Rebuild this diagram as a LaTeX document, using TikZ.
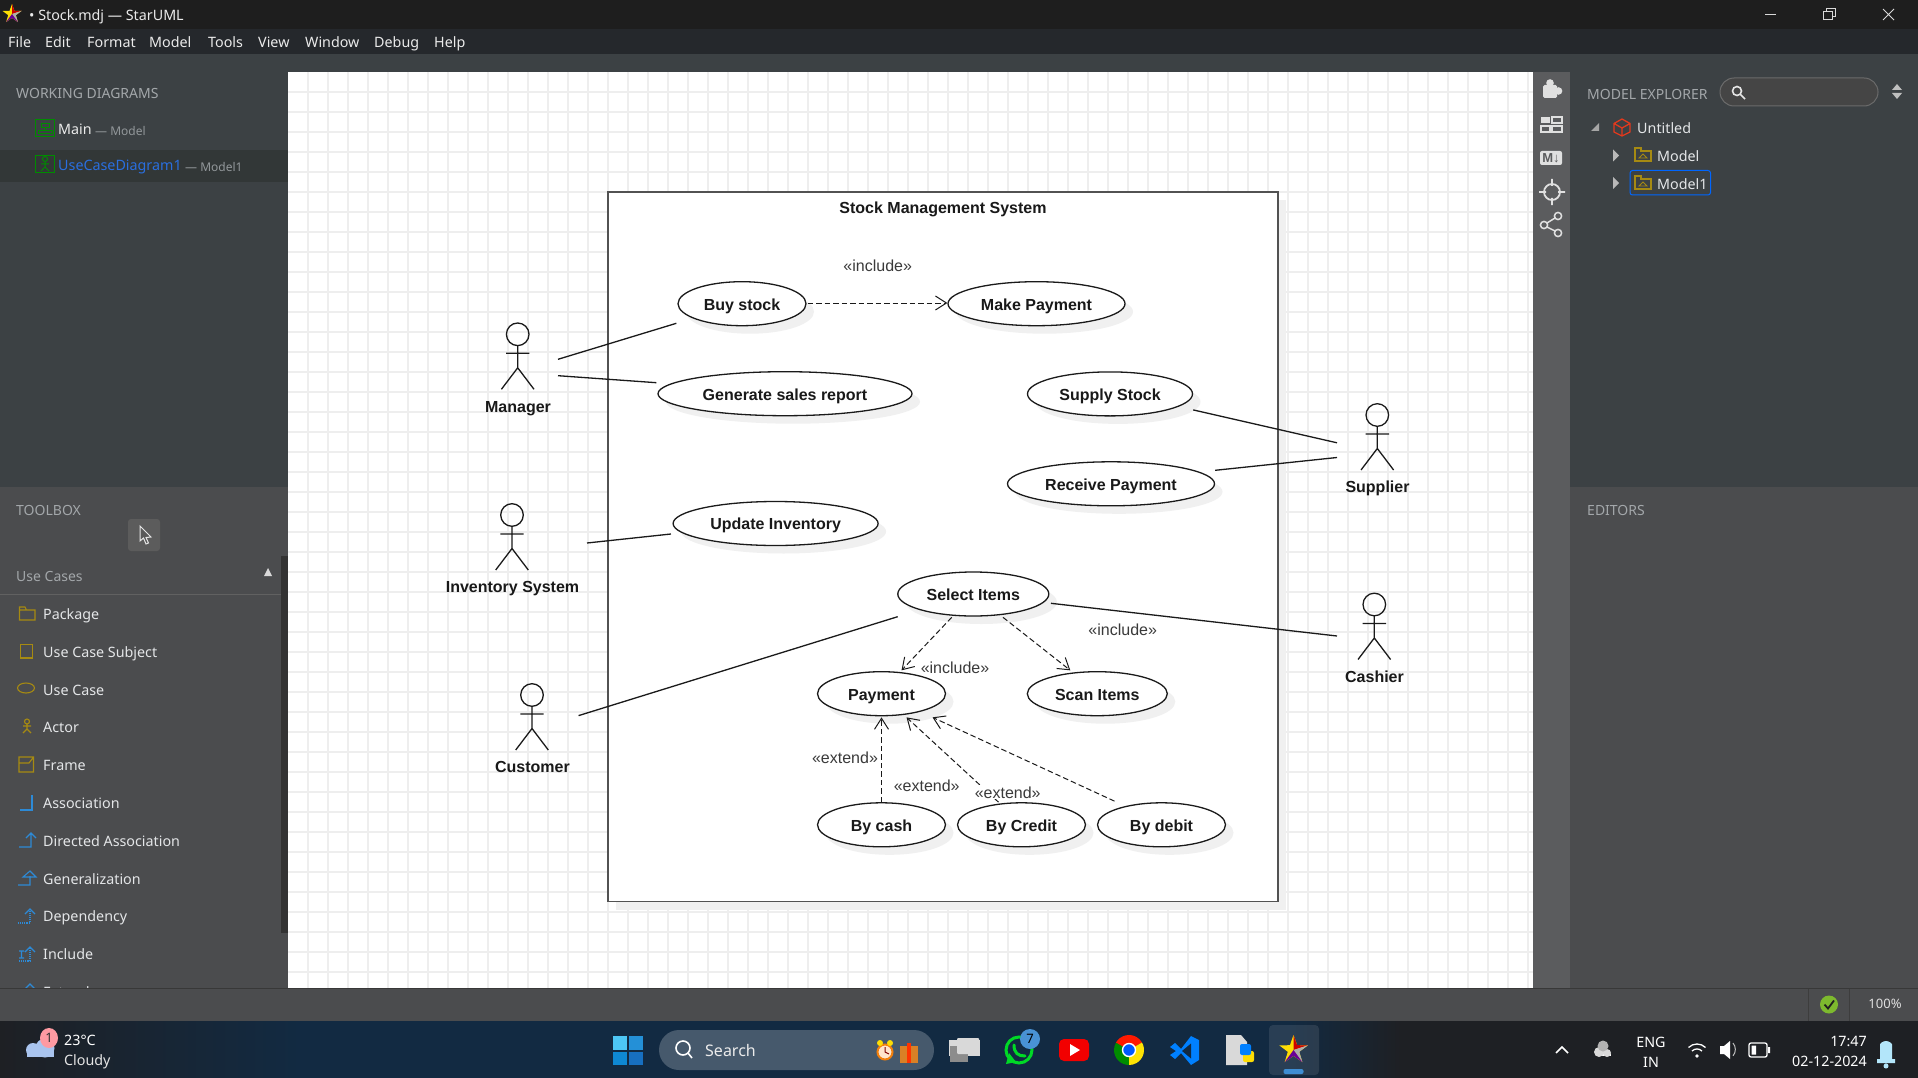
\documentclass[tikz,border=0pt]{standalone}
\usepackage{fontspec}
\setmainfont{Liberation Sans}
\newfontfamily\uifont{Noto Sans}
\usetikzlibrary{shapes.geometric,shadows,arrows.meta}

\definecolor{titlebg}{HTML}{1E1E1E}
\definecolor{menubg}{HTML}{25282C}
\definecolor{panelbg}{HTML}{3C4144}
\definecolor{panelsel}{HTML}{323737}
\definecolor{toolbg}{HTML}{4B4C4E}
\definecolor{sidebar}{HTML}{5B5C5E}
\definecolor{headtxt}{HTML}{A3A7AA}
\definecolor{uitxt}{HTML}{E4E6E8}
\definecolor{dimtxt}{HTML}{92979A}
\definecolor{linktxt}{HTML}{2A6FE0}
\definecolor{folderc}{HTML}{A68A12}
\definecolor{assocc}{HTML}{2D8AD6}
\definecolor{gridc}{HTML}{EEEEEE}
\definecolor{umlline}{HTML}{1A1A1A}
\definecolor{stereo}{HTML}{3A3A3A}
\definecolor{taskedge}{HTML}{1E2024}
\definecolor{taskmid}{HTML}{122A42}
\definecolor{cloudc}{HTML}{A9C4EE}
\definecolor{badgec}{HTML}{FF9AA2}
\definecolor{okc}{HTML}{7DB92E}

\newcommand\uisize[1]{\fontsize{#1}{#1}\selectfont}

\begin{document}
\begin{tikzpicture}[x=1pt,y=-1pt,
    usecase/.style={ellipse,draw=umlline,fill=white,line width=1.3pt,minimum height=44pt,inner sep=0pt,
                    font=\bfseries\uisize{16},text=black!90,text height=16pt,text depth=3.2pt,
                    drop shadow={shadow xshift=8pt,shadow yshift=-8pt,fill=black!6,opacity=1}},
    stickfig/.style={draw=umlline,line width=1.3pt},
    actorlabel/.style={font=\bfseries\uisize{16},text=black!90,inner sep=0pt,text height=16pt,text depth=3.2pt},
    assoc/.style={draw=umlline,line width=1.3pt},
    depend/.style={draw=umlline,line width=1pt,dash pattern=on 5.5pt off 3pt,-{Straight Barb[length=11pt,width=14pt]}},
    stereotype/.style={font=\uisize{16},text=stereo,inner sep=1pt},
    uitext/.style={font=\uifont\uisize{#1},text=uitxt,anchor=west,inner sep=0pt,text height=14pt,text depth=2pt},
    uitext/.default=14.3,
    uihead/.style={uitext=14,text=headtxt},
    menuitem/.style={uitext=14.3,text=white!92!black},
    taskitem/.style={font=\uifont\uisize{15},text=white,inner sep=0pt},
    pkgicon/.style={draw=folderc,line width=1.1pt},
    relicon/.style={draw=assocc,line width=1.1pt},
    barglyph/.style={draw=white!88!black,line width=1.8pt},
    stickman/.pic={
      \draw[stickfig] (0,0) circle [radius=11.3];
      \draw[stickfig] (0,11.3) -- (0,33.5) (-11.7,19) -- (11.7,19)
                      (-16.3,55) -- (0,33.5) -- (16.3,55);
    },
    foldersym/.pic={
      \draw[pkgicon] (-8,-7) -- (-2,-7) -- (-2,-4) -- (8,-4) -- (8,6) -- (-8,6) -- cycle;
      \draw[pkgicon,line width=.8pt] (-4,3) -- (0,-1) -- (4,3) -- cycle;
    },
    opentri/.pic={\fill[white!72!black] (-3,-6) -- (3,0) -- (-3,6) -- cycle;},
    starlogo/.pic={
      \fill[yellow!80!orange] (0,-10) -- (2.4,-3.2) -- (9.5,-3.1) -- (3.8,1.2) -- (5.9,8.1) -- (0,3.9)
        -- (-5.9,8.1) -- (-3.8,1.2) -- (-9.5,-3.1) -- (-2.4,-3.2) -- cycle;
      \fill[red!80!black] (0,-10) -- (2.4,-3.2) -- (9.5,-3.1) -- (0,0) -- cycle;
      \fill[white!68!black] (9.5,-3.1) -- (3.8,1.2) -- (5.9,8.1) -- (0,0) -- cycle;
      \fill[purple!55!blue] (0,0) -- (5.9,8.1) -- (0,3.9) -- (-5.9,8.1) -- cycle;
    }]

  \useasboundingbox (0,0) rectangle (1918,1078);

  % window frame
  \fill[titlebg] (0,0) rectangle (1918,29);
  \fill[menubg] (0,29) rectangle (1918,54);
  \fill[panelbg] (0,54) rectangle (1918,487);
  \fill[panelsel] (0,150) rectangle (288,182);
  \fill[toolbg] (0,487) rectangle (1918,988);
  \fill[white] (288,72) rectangle (1533,988);
  \foreach \x in {308,328,...,1528} \draw[gridc,line width=1.8pt] (\x,72) -- (\x,988);
  \foreach \y in {92,112,...,980} \draw[gridc,line width=1.8pt] (288,\y) -- (1533,\y);
  \fill[sidebar] (1533,72) rectangle (1570,988);

  % title bar and menu
  \pic at (12,14) {starlogo};
  \node[uitext=14.3,text=white!92!black] (doctitle) at (29,15) {• Stock.mdj — StarUML};
  \foreach \lab/\x in {File/8,Edit/45,Format/87,Model/149,Tools/208,View/258,Window/305,Debug/374,Help/434}
    \node[menuitem] (menu\lab) at (\x,42) {\lab};
  \draw[white!85!black,line width=1pt] (1765,14.5) -- (1776,14.5);
  \draw[white!85!black,line width=1pt] (1823,12) rectangle (1832,20) (1826,12) -- (1826,9) -- (1835,9) -- (1835,17) -- (1832,17);
  \draw[white!85!black,line width=1pt] (1883,9) -- (1894,20) (1894,9) -- (1883,20);

  % working diagrams panel
  \node[uihead] (workhead) at (16,93) {WORKING DIAGRAMS};
  \draw[green!55!black,line width=1pt] (35.5,119.5) rectangle (54,137);
  \draw[green!55!black,line width=1pt] (41,124) rectangle (49,128) (45,128) -- (45,131) (38,134) -- (52,134) -- (52,131) -- (38,131) -- cycle;
  \node[uitext=14.3,text=white!92!black,font=\uifont\uisize{14.3}\bfseries] (mainname) at (58,129) {Main};
  \node[uitext=12,text=dimtxt] (mainmodel) at (95,129.5) {— Model};
  \draw[green!55!black,line width=1pt] (35.5,155.5) rectangle (54,173);
  \draw[green!55!black,line width=1pt] (45,159) circle [radius=2.5] (45,161.5) -- (45,167) (41,164) -- (49,164) (41,171) -- (45,167) -- (49,171);
  \node[uitext=14.3,text=linktxt] (ucname) at (58,165) {UseCaseDiagram1};
  \node[uitext=12,text=dimtxt] (ucmodel) at (185,165.5) {— Model1};

  % toolbox panel
  \node[uihead] (toolhead) at (16,509) {TOOLBOX};
  \fill[white!36!black,rounded corners=3pt] (128,519) rectangle (160,551);
  \filldraw[fill=white!35!black,draw=white!90!black,line width=1pt] (140,526) -- (140,541) -- (143.5,538) -- (146,544) -- (148.5,543) -- (146,537.5) -- (151,537) -- cycle;
  \node[uihead] (usecases) at (16,575) {Use Cases};
  \fill[white!85!black] (268,568) -- (272,576) -- (264,576) -- cycle;
  \draw[white!38!black,line width=1pt] (0,594.5) -- (281,594.5);
  \foreach \lab/\y [count=\i] in {Package/613.5,Use Case Subject/651.5,Use Case/689,Actor/726.5,Frame/764,Association/802,Directed Association/840,Generalization/878,Dependency/915.5,Include/953.5,Extend/991.5}
    \node[uitext=14.3] (tool\i) at (43,\y) {\lab};
  \fill[black!80] (281,556) rectangle (288,933);
  \draw[pkgicon] (19.5,607) -- (25,607) -- (26.5,610) -- (35,610) -- (35,620) -- (19.5,620) -- cycle (19.5,610) -- (26.5,610);
  \draw[pkgicon] (20.5,644.5) rectangle (32.5,658);
  \draw[pkgicon] (26,688) ellipse [x radius=8.5,y radius=5];
  \draw[pkgicon] (27,721.5) circle [radius=2.5] (27,724) -- (27,729) (23,726) -- (31,726) (23,733) -- (27,729) -- (31,733);
  \draw[pkgicon] (19,757) rectangle (33.5,772) (19,763) -- (29,763) -- (33.5,757);
  \draw[relicon] (20,810) -- (32,810) -- (32,795);
  \draw[relicon] (19,847) -- (31,847) -- (31,833) (26,838) -- (31,833) -- (36,838);
  \draw[relicon] (18,885) -- (30,885) -- (30,876) (23,877) -- (30,871) -- (36,877) -- cycle;
  \draw[relicon,densely dotted] (18,923) -- (30,923) -- (30,910);
  \draw[relicon] (25,914) -- (30,909) -- (35,914);
  \draw[relicon,densely dotted] (19,961) -- (30,961) -- (30,948);
  \draw[relicon] (25,952) -- (30,947) -- (35,952) (19,951) -- (24,951) (21.5,951) -- (21.5,958) (19,958) -- (24,958);
  \draw[relicon] (25,989) -- (30,984) -- (35,989);

  % side bar glyphs
  \fill[white!88!black,rounded corners=1.5pt] (1543,85) rectangle (1557,98);
  \fill[white!88!black] (1550,83) circle [radius=3.8] (1558.5,91) circle [radius=3.8];
  \draw[barglyph,line width=1.1pt] (1552,117) rectangle (1562,123) (1552,126) rectangle (1562,132) (1541,126) rectangle (1550,132);
  \fill[white!88!black] (1541,117) rectangle (1550,123);
  \fill[white!88!black,rounded corners=2pt] (1540,151) rectangle (1562,165);
  \node[font=\bfseries\uisize{13},text=sidebar,inner sep=0pt] (mdglyph) at (1551,158) {M↓};
  \draw[barglyph] (1552,192) circle [radius=8] (1552,179) -- (1552,186) (1552,198) -- (1552,205) (1539,192) -- (1546,192) (1558,192) -- (1565,192);
  \draw[barglyph,line width=1.5pt] (1544,225) circle [radius=3.6] (1558,216) circle [radius=3.6] (1558,233) circle [radius=3.6]
    (1547,223) -- (1555,218) (1547,227) -- (1555,231);

  % model explorer
  \node[uihead] (explorehead) at (1587,93.5) {MODEL EXPLORER};
  \filldraw[fill=white!27!black,draw=white!42!black,line width=1pt,rounded corners=14pt] (1720,78) rectangle (1878,106);
  \draw[white!90!black,line width=1.6pt] (1737,91) circle [radius=4.5] (1740.5,94.5) -- (1745,99);
  \fill[white!75!black] (1897,84) -- (1902,90) -- (1892,90) -- cycle (1892,93) -- (1902,93) -- (1897,99) -- cycle;
  \fill[white!65!black] (1599,123) -- (1599,131) -- (1591,131) -- cycle;
  \draw[red!55!brown,line width=1.3pt] (1622,119) -- (1630,123.5) -- (1630,132) -- (1622,136) -- (1614,132) -- (1614,123.5) -- cycle
    (1614,123.5) -- (1622,128) -- (1630,123.5) (1622,128) -- (1622,136);
  \node[uitext=14.3] (untitled) at (1637,128) {Untitled};
  \pic at (1643,155) {foldersym};
  \pic at (1616,155.5) {opentri};
  \node[uitext=14.3] (modelrow) at (1657,155.5) {Model};
  \draw[blue!60!cyan,line width=1pt,rounded corners=2.5pt] (1630,170.5) rectangle (1710.5,195);
  \pic at (1643,183) {foldersym};
  \pic at (1616,183) {opentri};
  \node[uitext=14.3] (modelonerow) at (1657,183.5) {Model1};
  \node[uihead] (editors) at (1587,509) {EDITORS};

  % status bar
  \fill[toolbg] (0,988) rectangle (1918,1021);
  \draw[white!22!black,line width=1pt] (0,988.5) -- (1918,988.5);
  \draw[white!24!black,line width=1pt] (1808,989) -- (1808,1021) (1849,989) -- (1849,1021);
  \fill[okc] (1829,1004.5) circle [radius=9];
  \draw[white!12!black,line width=1.8pt] (1824.5,1004.5) -- (1828,1008.5) -- (1834,1000.5);
  \node[taskitem,font=\uifont\uisize{13},text=white!88!black] (zoomval) at (1885,1004) {100\%};

  % task bar
  \shade[left color=taskedge,right color=taskmid] (0,1021) rectangle (300,1078);
  \fill[taskmid] (300,1021) rectangle (1290,1078);
  \shade[left color=taskmid,right color=taskedge] (1290,1021) rectangle (1400,1078);
  \fill[taskedge] (1400,1021) rectangle (1918,1078);
  \fill[cloudc] (27,1049) rectangle (54,1057);
  \fill[cloudc] (33,1050) circle [radius=7] (45,1048) circle [radius=9.5];
  \fill[badgec] (49,1038) ellipse [x radius=9,y radius=10];
  \node[taskitem,font=\uifont\uisize{13},text=black!80] (weatherbadge) at (49,1038) {1};
  \node[uitext=14.3,text=white] (temp) at (64,1039) {23°C};
  \node[uitext=14.3,text=white!90!black] (sky) at (64,1059.5) {Cloudy};
  \fill[cyan!70!white] (613,1036) rectangle (627,1050);
  \fill[cyan!70!blue!90!white] (628.5,1036) rectangle (642.5,1050);
  \fill[cyan!70!blue] (613,1051.5) rectangle (627,1065);
  \fill[cyan!50!blue] (628.5,1051.5) rectangle (642.5,1065);
  \fill[white!22!taskmid,rounded corners=20pt] (659,1030) rectangle (934,1070);
  \draw[white,line width=1.6pt] (683,1048) circle [radius=7] (688,1053) -- (692,1058);
  \node[uitext=16,text=white!92!black] (searchword) at (705,1050) {Search};
  \filldraw[fill=white!80!orange,draw=orange!80!brown,line width=2pt] (885,1052) circle [radius=7.5];
  \fill[yellow!80!orange] (880,1043) circle [radius=3] (890,1043) circle [radius=3];
  \draw[red!50!black,line width=1pt] (885,1047) -- (885,1052) -- (889,1054);
  \fill[brown!60!orange] (900,1046) rectangle (918,1063);
  \fill[red!60!orange] (907,1043) rectangle (911,1063);
  \fill[white!85!black] (949,1040) rectangle (980,1056);
  \fill[white!55!black] (950,1046) rectangle (968,1062);
  \fill[white!85!black,rounded corners=1pt] (957,1038) rectangle (979,1054);
  \draw[green!70!teal,line width=3pt] (1019,1050) circle [radius=13];
  \fill[green!70!teal] (1006,1064) -- (1009,1053) -- (1016,1062) -- cycle;
  \draw[green!70!teal,line width=3pt,line cap=round] (1014,1045) .. controls (1014,1053) and (1018,1056) .. (1025,1056);
  \fill[cyan!60!blue!75!white] (1030,1039) circle [radius=10];
  \node[taskitem,font=\uifont\uisize{13},text=black] (wabadge) at (1030,1039) {7};
  \fill[red!95!black,rounded corners=5pt] (1059,1039) rectangle (1089,1061);
  \fill[white] (1070,1044) -- (1080,1050) -- (1070,1056) -- cycle;
  \fill[green!55!black] (1129,1050) -- (1129,1065) arc (90:210:15) -- cycle;
  \fill[red!80!orange] (1129,1050) -- (1116,1042.5) arc (210:330:15) -- cycle;
  \fill[yellow!85!orange] (1129,1050) -- (1142,1042.5) arc (330:450:15) -- cycle;
  \filldraw[fill=blue!65!cyan,draw=white,line width=1.4pt] (1129,1050) circle [radius=6.5];
  \fill[blue!50!cyan] (1170,1047) -- (1175,1043) -- (1181,1049) -- (1191,1036) -- (1199,1040) -- (1199,1060) -- (1191,1065) -- (1181,1053) -- (1175,1059) -- (1170,1055) -- (1176,1051) -- cycle;
  \fill[taskmid] (1182,1051) -- (1191,1043.5) -- (1191,1058.5) -- cycle;
  \fill[white!85!black] (1226,1035) -- (1241,1035) -- (1247,1042) -- (1247,1065) -- (1226,1065) -- cycle;
  \fill[yellow!80!orange,rounded corners=2pt] (1243,1051) rectangle (1254,1062);
  \fill[blue!50!cyan,rounded corners=2pt] (1240,1044) rectangle (1251,1055);
  \fill[white!80!taskmid,opacity=.12,rounded corners=4pt] (1269,1025) rectangle (1319,1075);
  \pic[scale=1.5] at (1293.5,1050) {starlogo};
  \fill[cyan!60!blue!80!white,rounded corners=2pt] (1283.5,1069) rectangle (1303.5,1074);
  \draw[white,line width=1.6pt] (1556,1053) -- (1562,1047) -- (1568,1053);
  \fill[white] (1598,1054) rectangle (1611,1056);
  \fill[white!85!black] (1599,1052) circle [radius=5] (1607,1053) circle [radius=4];
  \fill[white!70!black] (1603,1046) circle [radius=5.5];
  \node[taskitem,uitext=14.3,anchor=center,text=white] (lang) at (1651,1041) {ENG};
  \node[taskitem,uitext=14.3,anchor=center,text=white] (region) at (1651,1061) {IN};
  \fill[white] (1697,1056) circle [radius=1.8];
  \draw[white,line width=1.3pt] (1692,1051) arc (225:315:7) (1688.5,1047.5) arc (225:315:12);
  \fill[white] (1720,1046) rectangle (1724,1054) (1724,1046) -- (1730,1041) -- (1730,1059) -- (1724,1054) -- cycle;
  \draw[white!75!black,line width=1pt] (1733,1043) arc (-40:40:10);
  \draw[white,line width=1.3pt,rounded corners=2pt] (1749,1043) rectangle (1767,1057);
  \fill[white] (1751.5,1045.5) rectangle (1756,1054.5) (1768,1047) rectangle (1770,1053);
  \node[uitext=14.3,anchor=east,text=white] (clock) at (1867,1040) {17:47};
  \node[uitext=14.3,anchor=east,text=white] (calendar) at (1867,1060.5) {02-12-2024};
  \fill[cyan!30!white,rounded corners=2.5pt] (1880,1061) -- (1880,1047) arc (180:360:6) -- (1892,1061) -- (1894,1059) -- cycle;
  \fill[cyan!30!white] (1877,1059) rectangle (1895,1063) (1886,1066) circle [radius=2.5];

  % system boundary
  \node[draw=black!68,fill=white,line width=1.5pt,minimum width=670pt,minimum height=709.5pt,inner sep=0pt,
        drop shadow={shadow xshift=8pt,shadow yshift=-8pt,fill=black!6,opacity=1}] (system) at (943,546.75) {};
  \node[actorlabel] (systemname) at (943,206.7) {Stock Management System};

  % use cases
  \node[usecase,minimum width=128pt] (buy) at (742,303.7) {Buy stock};
  \node[usecase,minimum width=177pt] (make) at (1036.5,303.7) {Make Payment};
  \node[usecase,minimum width=254pt] (report) at (785,393.7) {Generate sales report};
  \node[usecase,minimum width=165pt] (supply) at (1110,393.9) {Supply Stock};
  \node[usecase,minimum width=207pt] (receive) at (1111,483.8) {Receive Payment};
  \node[usecase,minimum width=205pt] (update) at (775.6,523.5) {Update Inventory};
  \node[usecase,minimum width=151pt] (select) at (973.3,594) {Select Items};
  \node[usecase,minimum width=128pt] (payment) at (881.5,693.7) {Payment};
  \node[usecase,minimum width=140pt] (scan) at (1097.3,693.7) {Scan Items};
  \node[usecase,minimum width=128pt] (cash) at (881.5,824.8) {By cash};
  \node[usecase,minimum width=128pt] (credit) at (1021.5,824.8) {By Credit};
  \node[usecase,minimum width=128pt] (debit) at (1161.5,824.8) {By debit};

  % actors
  \pic at (517.7,334.3) {stickman};
  \pic at (512,515) {stickman};
  \pic at (532,695) {stickman};
  \pic at (1377.3,415) {stickman};
  \pic at (1374.3,604.5) {stickman};
  \node[actorlabel] (manager) at (518,406) {Manager};
  \node[actorlabel] (inventory) at (512.5,586) {Inventory System};
  \node[actorlabel] (customer) at (532.5,766) {Customer};
  \node[actorlabel] (supplier) at (1377.5,485.6) {Supplier};
  \node[actorlabel] (cashier) at (1374.5,676) {Cashier};

  \coordinate (managerA) at (558,359.3);
  \coordinate (managerB) at (558,375.7);
  \coordinate (inventoryA) at (587,543);
  \coordinate (customerA) at (578.6,715.6);
  \coordinate (supplierA) at (1337,442.8);
  \coordinate (supplierB) at (1337,457.5);
  \coordinate (cashierA) at (1337,636);

  \draw[assoc] (managerA) -- ([shift={(-1,19.6)}]buy.west);
  \draw[assoc] (managerB) -- ([shift={(-1,-11)}]report.west);
  \draw[assoc] (inventoryA) -- ([shift={(-1.5,10.5)}]update.west);
  \draw[assoc] (customerA) -- ([shift={(0.5,22.7)}]select.west);
  \draw[assoc] (supplierA) -- ([shift={(0,16)}]supply.east);
  \draw[assoc] (supplierB) -- ([shift={(0,-13.5)}]receive.east);
  \draw[assoc] (cashierA) -- ([shift={(1.5,9.3)}]select.east);

  \draw[depend] ([shift={(1,-0.7)}]buy.east) -- ([shift={(0,-0.7)}]make.west);
  \draw[depend] ([shift={(-21.6,0.7)}]select.south) -- ([shift={(20,-0.7)}]payment.north);
  \draw[depend] ([shift={(29.7,0.7)}]select.south) -- ([shift={(-27,-0.7)}]scan.north);
  \draw[depend] (cash.north) -- ([shift={(0,1)}]payment.south);
  \draw[depend] ([shift={(-23,0)}]credit.north) -- ([shift={(25,1)}]payment.south);
  \draw[depend] ([shift={(-47,-1)}]debit.north) -- ([shift={(51,1)}]payment.south);

  \node[stereotype] (inclbuy) at (877.7,265.7) {«include»};
  \node[stereotype] (inclpay) at (955,667.3) {«include»};
  \node[stereotype] (inclscan) at (1122.7,629.3) {«include»};
  \node[stereotype] (extcash) at (845,757.7) {«extend»};
  \node[stereotype] (extmid) at (926.7,785.7) {«extend»};
  \node[stereotype,fill=white] (extcredit) at (1007.7,792.3) {«extend»};
\end{tikzpicture}
\end{document}
